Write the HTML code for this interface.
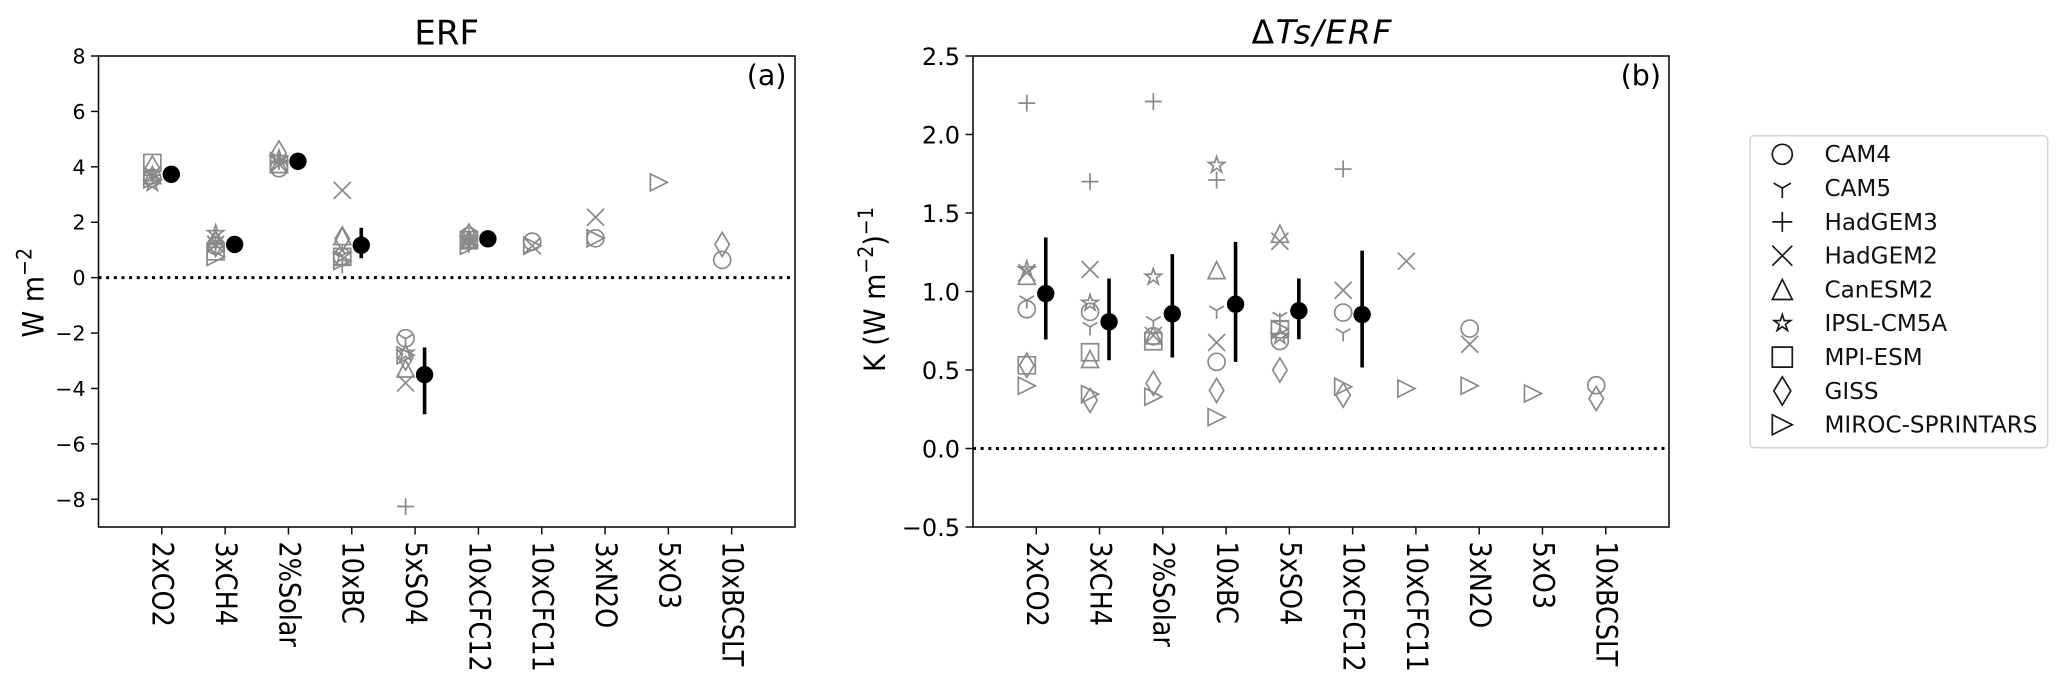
<!DOCTYPE html>
<html lang="en">
<head>
<meta charset="utf-8">
<title>ERF and Temperature Sensitivity</title>
<style>
html,body{margin:0;padding:0;background:#fff;width:2067px;height:685px;overflow:hidden}
svg{display:block;font-family:"DejaVu Sans","Liberation Sans",sans-serif}
</style>
</head>
<body>
<svg id="chart" xmlns="http://www.w3.org/2000/svg" width="2067" height="685" viewBox="0 0 2067 685">
  <rect width="2067" height="685" fill="#fff"/>
  <g id="panel-a"></g>
  <g id="panel-b"></g>

  <text x="446.7" y="44.3" font-size="34" text-anchor="middle" fill="#000">ERF</text>
  <text x="1251.5" y="43.5" font-size="33" fill="#000" textLength="140" lengthAdjust="spacing">Δ<tspan font-style="italic">Ts/ERF</tspan></text>

  <text x="786.5" y="85" font-size="28.5" text-anchor="end" fill="#000">(a)</text>
  <text x="1661" y="85" font-size="28.5" text-anchor="end" fill="#000">(b)</text>

  <text transform="translate(43.5,337.5) rotate(-90) scale(1,1.1)" font-size="27" fill="#000">W m<tspan dy="-11" font-size="19">−2</tspan></text>
  <text transform="translate(885,372) rotate(-90) scale(1,1.1)" font-size="27" fill="#000">K (W m<tspan dy="-11" font-size="19">−2</tspan><tspan dy="11">)</tspan><tspan dy="-11" font-size="19">−1</tspan></text>

  <g id="legend">
    <rect x="1750" y="135.7" width="297.7" height="312" rx="4" ry="4" fill="#fff" stroke="#d4d4d4" stroke-width="1.5"/>
  </g>
</svg>

<script>
// Shared categories and tick labels
const categories = ['2xCO2','3xCH4','2%Solar','10xBC','5xSO4','10xCFC12','10xCFC11','3xN2O','5xO3','10xBCSLT'];
const modelNames = ['CAM4','CAM5','HadGEM3','HadGEM2','CanESM2','IPSL-CM5A','MPI-ESM','GISS','MIROC-SPRINTARS'];
const modelMarkers = ['circle','tri','plus','cross','triup','star','square','diamond','triright'];
const erfTicks = [8,6,4,2,0,-2,-4,-6,-8];
const erfTickLabels = ['8','6','4','2','0','−2','−4','−6','−8'];
const sensTicks = [2.5,2.0,1.5,1.0,0.5,0.0,-0.5];
const sensTickLabels = ['2.5','2.0','1.5','1.0','0.5','0.0','−0.5'];

// Panel (a) ERF, W m-2, one array per model, in category order
const erfCam4    = [3.60,1.15,3.95,0.75,-2.19,1.50,1.30,1.42,null,0.64];
const erfCam5    = [3.70,1.30,4.20,0.80,-2.20,1.20,null,null,null,null];
const erfHadgem3 = [3.70,1.20,4.20,0.47,-8.26,1.40,null,null,null,null];
const erfHadgem2 = [3.70,1.20,4.10,3.15,-3.80,1.40,1.15,2.18,null,null];
const erfCanesm2 = [3.70,1.40,4.10,1.50,-3.28,1.40,null,null,null,null];
const erfIpsl    = [3.40,1.60,4.30,0.80,-2.72,1.40,null,null,null,null];
const erfMpi     = [4.14,0.95,4.10,0.75,null,1.35,null,null,null,null];
const erfGiss    = [3.95,1.20,4.50,1.40,-2.90,1.50,null,null,null,1.20];
const erfMiroc   = [3.55,0.75,4.20,0.60,-2.80,1.15,1.15,1.42,3.44,null];
const erfMean    = [3.73,1.20,4.20,1.17,-3.50,1.40,null,null,null,null];
const erfErrLow  = [null,null,null,0.70,-4.93,null,null,null,null,null];
const erfErrHigh = [null,null,null,1.80,-2.52,null,null,null,null,null];

// Panel (b) dTs/ERF, K (W m-2)-1
const sensCam4    = [0.887,0.870,0.715,0.552,0.685,0.866,null,0.764,null,0.403];
const sensCam5    = [0.945,0.775,0.813,0.880,0.840,0.736,null,null,null,null];
const sensHadgem3 = [2.200,1.700,2.210,1.710,0.810,1.780,null,null,null,null];
const sensHadgem2 = [1.120,1.140,0.720,0.675,1.320,1.008,1.193,0.664,null,null];
const sensCanesm2 = [1.100,0.570,0.720,1.136,1.368,null,null,null,null,null];
const sensIpsl    = [1.140,0.927,1.093,1.805,0.715,null,null,null,null,null];
const sensMpi     = [0.530,0.613,0.683,null,0.760,null,null,null,null,null];
const sensGiss    = [0.530,0.307,0.415,0.370,0.500,0.340,null,null,null,0.318];
const sensMiroc   = [0.400,0.346,0.330,0.200,0.760,0.393,0.382,0.400,0.350,null];
const sensMean    = [0.987,0.807,0.858,0.919,0.877,0.853,null,null,null,null];
const sensErrLow  = [0.694,0.562,0.580,0.552,0.696,0.516,null,null,null,null];
const sensErrHigh = [1.344,1.083,1.238,1.316,1.083,1.260,null,null,null,null];

const erfSeries = [erfCam4,erfCam5,erfHadgem3,erfHadgem2,erfCanesm2,erfIpsl,erfMpi,erfGiss,erfMiroc];
const sensSeries = [sensCam4,sensCam5,sensHadgem3,sensHadgem2,sensCanesm2,sensIpsl,sensMpi,sensGiss,sensMiroc];

const NS = 'http://www.w3.org/2000/svg';
const GRAY = '#8a8a8a';
const AXIS = '#111';

function make(tag, parent, attrs) {
  const el = document.createElementNS(NS, tag);
  for (const k in attrs) el.setAttribute(k, attrs[k]);
  parent.appendChild(el);
  return el;
}

function poly(points, r, closed) {
  return points.map((p, i) => (i ? 'L' : 'M') + (p[0] * r).toFixed(2) + ' ' + (p[1] * r).toFixed(2)).join(' ') + (closed ? ' Z' : '');
}

function starPoints() {
  const pts = [];
  for (let i = 0; i < 10; i++) {
    const rad = i % 2 ? 0.381966 : 1;
    const a = -Math.PI / 2 + i * Math.PI / 5;
    pts.push([rad * Math.cos(a), rad * Math.sin(a)]);
  }
  return pts;
}

function markerPath(kind, ms) {
  const r = ms / 2;
  switch (kind) {
    case 'tri': return 'M0 0 L0 ' + r + ' M0 0 L' + (0.866 * r) + ' ' + (-0.5 * r) + ' M0 0 L' + (-0.866 * r) + ' ' + (-0.5 * r);
    case 'plus': return 'M' + (-r) + ' 0 L' + r + ' 0 M0 ' + (-r) + ' L0 ' + r;
    case 'cross': return 'M' + (-r) + ' ' + (-r) + ' L' + r + ' ' + r + ' M' + (-r) + ' ' + r + ' L' + r + ' ' + (-r);
    case 'triup': return poly([[0,-1],[-1,1],[1,1]], r, true);
    case 'triright': return poly([[1,0],[-1,-1],[-1,1]], r, true);
    case 'star': return poly(starPoints(), r, true);
    case 'square': return poly([[-1,-1],[1,-1],[1,1],[-1,1]], r, true);
    case 'diamond': return poly([[0,-1.414],[0.848,0],[0,1.414],[-0.848,0]], r, true);
  }
  return '';
}

function drawMarker(parent, kind, x, y, ms, color, width) {
  if (kind === 'circle') {
    return make('circle', parent, {cx: x, cy: y, r: ms / 2, fill: 'none', stroke: color, 'stroke-width': width});
  }
  return make('path', parent, {d: markerPath(kind, ms), transform: 'translate(' + x + ',' + y + ')', fill: 'none', stroke: color, 'stroke-width': width, 'stroke-linejoin': 'miter'});
}

function drawPanel(cfg) {
  const root = document.getElementById(cfg.id);
  const {left, right, top, bottom, yMax, yMin} = cfg;
  const xScale = v => left + (right - left) * v / 11;
  const yScale = v => top + (bottom - top) * (yMax - v) / (yMax - yMin);

  const zero = make('line', root, {x1: left, x2: right - 1, y1: yScale(0), y2: yScale(0), stroke: '#000', 'stroke-width': 3, 'stroke-dasharray': '3 4.65'});
  
  

  cfg.series.forEach((values, m) => {
    const group = make('g', root, {});
    
    
    values.forEach((v, c) => {
      if (v === null) return;
      const mark = drawMarker(group, modelMarkers[m], xScale(c + 1 - 0.15), yScale(v), 17, GRAY, 1.7);
      
      
    });
  });

  cfg.mean.forEach((v, c) => {
    if (v === null) return;
    const cx = xScale(c + 1 + 0.15);
    if (cfg.low[c] !== null) {
      const bar = make('line', root, {x1: cx, x2: cx, y1: yScale(cfg.high[c]), y2: yScale(cfg.low[c]), stroke: '#000', 'stroke-width': 3.6});
      
      
    }
    const dot = make('circle', root, {cx: cx, cy: yScale(v), r: 8.7, fill: '#000'});
    
    
  });

  const frame = make('rect', root, {x: left, y: top, width: right - left, height: bottom - top, fill: 'none', stroke: AXIS, 'stroke-width': 1.6});
  
  

  cfg.ticks.forEach((v, i) => {
    const y = yScale(v);
    const tick = make('line', root, {x1: left - 7.5, x2: left, y1: y, y2: y, stroke: AXIS, 'stroke-width': 1.5});
    
    
    const lab = make('text', root, {x: left - 13, y: y + cfg.yFont * 0.365, 'font-size': cfg.yFont, 'text-anchor': 'end', fill: '#000'});
    
    
    lab.textContent = cfg.tickLabels[i];
  });

  categories.forEach((name, c) => {
    const x = xScale(c + 1);
    const tick = make('line', root, {x1: x, x2: x, y1: bottom, y2: bottom + 7.5, stroke: AXIS, 'stroke-width': 1.5});
    
    
    const lab = make('text', root, {transform: 'translate(' + x + ',541.5) rotate(90) scale(0.945,1.08)', y: 8.4, 'font-size': 27, fill: '#000'});
    
    
    lab.textContent = name;
  });
}

drawPanel({id: 'panel-a', left: 98.5, right: 795, top: 56, bottom: 527, yMax: 8, yMin: -9, ticks: erfTicks, tickLabels: erfTickLabels, yFont: 20.5, series: erfSeries, mean: erfMean, low: erfErrLow, high: erfErrHigh});
drawPanel({id: 'panel-b', left: 973, right: 1669, top: 56, bottom: 527, yMax: 2.5, yMin: -0.5, ticks: sensTicks, tickLabels: sensTickLabels, yFont: 24, series: sensSeries, mean: sensMean, low: sensErrLow, high: sensErrHigh});

const legendRoot = document.getElementById('legend');
modelNames.forEach((name, i) => {
  const rowY = 154.3 + i * 33.8;
  const entry = make('g', legendRoot, {});
  
  
  const iconSize = modelMarkers[i] === 'star' ? 17.5 : 20;
  const icon = drawMarker(entry, modelMarkers[i], 1782.3, rowY, iconSize, '#1a1a1a', 1.7);
  
  
  const label = make('text', entry, {x: 1824.5, y: rowY + 7.9, 'font-size': 23.1, fill: '#111'});
  
  
  label.textContent = name;
});
</script>
</body>
</html>
